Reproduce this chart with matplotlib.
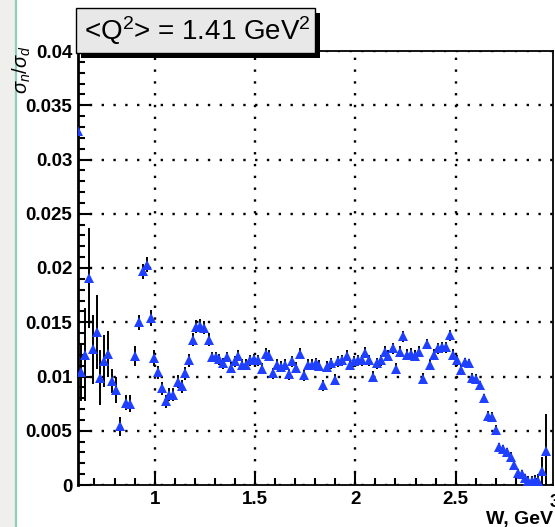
import matplotlib
matplotlib.use("Agg")
import matplotlib.pyplot as plt
from matplotlib.patches import Rectangle
from matplotlib.lines import Line2D
from matplotlib.ticker import FixedLocator, FixedFormatter, MultipleLocator

# W (GeV), sigma_n/sigma_d and its error
w_vals = [
    0.620, 0.634, 0.653, 0.674, 0.694, 0.712, 0.729, 0.749, 0.769, 0.789,
    0.807, 0.829, 0.858, 0.878, 0.903, 0.923, 0.943, 0.960, 0.982, 0.998,
    1.018, 1.038, 1.056, 1.073, 1.093, 1.115, 1.135, 1.151, 1.173, 1.189,
    1.206, 1.226, 1.247, 1.269, 1.286, 1.304, 1.321, 1.339, 1.362, 1.382,
    1.400, 1.417, 1.436, 1.457, 1.477, 1.496, 1.516, 1.536, 1.553, 1.571,
    1.591, 1.611, 1.630, 1.650, 1.668, 1.686, 1.706, 1.724, 1.746, 1.766,
    1.786, 1.802, 1.819, 1.841, 1.857, 1.877, 1.897, 1.915, 1.935, 1.957,
    1.974, 1.994, 2.012, 2.032, 2.050, 2.070, 2.090, 2.107, 2.128, 2.148,
    2.165, 2.186, 2.203, 2.221, 2.239, 2.259, 2.279, 2.298, 2.318, 2.336,
    2.356, 2.372, 2.392, 2.411, 2.431, 2.451, 2.470, 2.489, 2.506, 2.527,
    2.547, 2.567, 2.583, 2.602, 2.622, 2.643, 2.663, 2.680, 2.701, 2.718,
    2.738, 2.757, 2.775, 2.793, 2.813, 2.830, 2.846, 2.862, 2.879, 2.894,
    2.909, 2.929, 2.951,
]
ratio_vals = [
    0.0326, 0.0104, 0.0120, 0.0191, 0.0125, 0.0141, 0.0099, 0.0114, 0.0121, 0.0096,
    0.0088, 0.0054, 0.0076, 0.0075, 0.0119, 0.0150, 0.0197, 0.0203, 0.0154, 0.0117,
    0.0104, 0.0089, 0.0077, 0.0083, 0.0083, 0.0095, 0.0091, 0.0103, 0.0115, 0.0134,
    0.0146, 0.0147, 0.0145, 0.0134, 0.0118, 0.0118, 0.0116, 0.0112, 0.0118, 0.0108,
    0.0114, 0.0119, 0.0111, 0.0111, 0.0115, 0.0116, 0.0115, 0.0107, 0.0121, 0.0119,
    0.0103, 0.0111, 0.0109, 0.0111, 0.0102, 0.0114, 0.0108, 0.0121, 0.0101, 0.0111,
    0.0111, 0.0112, 0.0110, 0.0092, 0.0109, 0.0112, 0.0097, 0.0114, 0.0115, 0.0119,
    0.0111, 0.0114, 0.0115, 0.0115, 0.0122, 0.0115, 0.0100, 0.0112, 0.0115, 0.0123,
    0.0119, 0.0126, 0.0107, 0.0123, 0.0137, 0.0120, 0.0121, 0.0119, 0.0123, 0.0098,
    0.0130, 0.0111, 0.0120, 0.0126, 0.0127, 0.0127, 0.0138, 0.0120, 0.0115, 0.0106,
    0.0113, 0.0112, 0.0099, 0.0098, 0.0092, 0.0080, 0.0064, 0.0063, 0.0051, 0.0035,
    0.0033, 0.0030, 0.0026, 0.0018, 0.0011, 0.0010, 0.0006, 0.0004, 0.0004, 0.0004,
    0.0004, 0.0013, 0.0031,
]
ratio_errs = [
    0.0000, 0.0027, 0.0043, 0.0046, 0.0032, 0.0034, 0.0025, 0.0024, 0.0021, 0.0011,
    0.0012, 0.0009, 0.0007, 0.0008, 0.0009, 0.0007, 0.0007, 0.0007, 0.0007, 0.0007,
    0.0006, 0.0006, 0.0006, 0.0006, 0.0006, 0.0006, 0.0006, 0.0006, 0.0006, 0.0006,
    0.0006, 0.0006, 0.0006, 0.0006, 0.0005, 0.0005, 0.0005, 0.0005, 0.0005, 0.0005,
    0.0005, 0.0005, 0.0005, 0.0005, 0.0005, 0.0005, 0.0005, 0.0005, 0.0005, 0.0005,
    0.0005, 0.0005, 0.0005, 0.0005, 0.0005, 0.0005, 0.0005, 0.0005, 0.0005, 0.0005,
    0.0005, 0.0005, 0.0005, 0.0005, 0.0005, 0.0005, 0.0005, 0.0005, 0.0005, 0.0005,
    0.0005, 0.0005, 0.0005, 0.0005, 0.0005, 0.0005, 0.0005, 0.0005, 0.0005, 0.0005,
    0.0005, 0.0005, 0.0005, 0.0005, 0.0005, 0.0005, 0.0005, 0.0005, 0.0005, 0.0005,
    0.0005, 0.0005, 0.0005, 0.0005, 0.0005, 0.0005, 0.0005, 0.0005, 0.0005, 0.0005,
    0.0004, 0.0004, 0.0004, 0.0004, 0.0004, 0.0004, 0.0004, 0.0004, 0.0004, 0.0004,
    0.0004, 0.0004, 0.0004, 0.0004, 0.0004, 0.0004, 0.0004, 0.0004, 0.0004, 0.0005,
    0.0006, 0.0013, 0.0034,
]

x_ticks = [1.0, 1.5, 2.0, 2.5]
x_labels = ["1", "1.5", "2", "2.5"]
y_ticks = [0.0, 0.005, 0.01, 0.015, 0.02, 0.025, 0.03, 0.035, 0.04]
y_labels = ["0", "0.005", "0.01", "0.015", "0.02", "0.025", "0.03", "0.035", "0.04"]

title_text = r"<Q$^2$> = 1.41 GeV$^2$"

plt.rcParams["font.family"] = ["Liberation Sans", "DejaVu Sans"]
plt.rcParams["mathtext.fontset"] = "custom"
plt.rcParams["mathtext.rm"] = "Liberation Sans"
plt.rcParams["mathtext.it"] = "Liberation Sans:italic"
plt.rcParams["mathtext.bf"] = "Liberation Sans:bold"

W, H = 555, 527
fig = plt.figure(figsize=(W / 100, H / 100), dpi=100)

# left panel strip
fig.patches.append(Rectangle((0, 0), 15 / W, 1, transform=fig.transFigure,
                             facecolor="#efefeb", edgecolor="none", zorder=0))
fig.lines.append(Line2D([15.5 / W, 15.5 / W], [0, 1], transform=fig.transFigure,
                        color="#8ccfbb", linewidth=1.6))

ax = fig.add_axes([78 / W, 1 - 485 / H, (553 - 78) / W, (485 - 51) / H])
ax.set_xlim(0.618, 2.985)
ax.set_ylim(0, 0.04)

ax.errorbar(w_vals, ratio_vals, yerr=ratio_errs, fmt="none", ecolor="black",
            elinewidth=1.4, capsize=0, zorder=3)
ax.plot(w_vals, ratio_vals, linestyle="none", marker="^", markersize=7.5,
        color="#1f40ff", markeredgewidth=0, zorder=4)

ax.xaxis.set_major_locator(FixedLocator(x_ticks))
ax.xaxis.set_major_formatter(FixedFormatter(x_labels))
ax.xaxis.set_minor_locator(MultipleLocator(0.1))
ax.yaxis.set_major_locator(FixedLocator(y_ticks))
ax.yaxis.set_major_formatter(FixedFormatter(y_labels))
ax.yaxis.set_minor_locator(MultipleLocator(0.001))

ax.tick_params(which="both", direction="in", top=False, right=False, color="black")
ax.tick_params(which="major", length=9, width=1.5, labelsize=13.5, pad=4)
ax.tick_params(which="minor", length=5, width=1.5)
for lbl in ax.get_xticklabels() + ax.get_yticklabels():
    lbl.set_fontweight("bold")

ax.grid(which="major", color="black", linestyle=(0, (1, 4)), linewidth=1.7)
for side in ax.spines.values():
    side.set_linewidth(1.3)
ax.spines["left"].set_linewidth(2)

# "3" label sits just past the axis end, cut by the image edge in the reference
ax.text(2.992, -0.0008, "3", transform=ax.transData, ha="center", va="top",
        fontsize=13.5, fontweight="bold", clip_on=False)

# title box with ROOT-style shadow
fig.patches.append(Rectangle((81 / W, 1 - 58 / H), 239 / W, 45 / H,
                             transform=fig.transFigure, facecolor="black",
                             edgecolor="none", zorder=5))
fig.patches.append(Rectangle((76 / W, 1 - 53 / H), 239 / W, 45 / H,
                             transform=fig.transFigure, facecolor="#e8e8e8",
                             edgecolor="black", linewidth=1, zorder=6))
fig.text(197 / W, 1 - 31 / H, title_text, ha="center", va="center",
         fontsize=20, zorder=7)

fig.text(22 / W, 1 - 46 / H, r"$\sigma_n/\sigma_d$", rotation=90,
         ha="center", va="top", fontsize=14.5)
fig.text(553 / W, 1 - 524 / H, "W, GeV", ha="right", va="baseline",
         fontsize=14, fontweight="bold")

fig.savefig("out.png", dpi=100)
